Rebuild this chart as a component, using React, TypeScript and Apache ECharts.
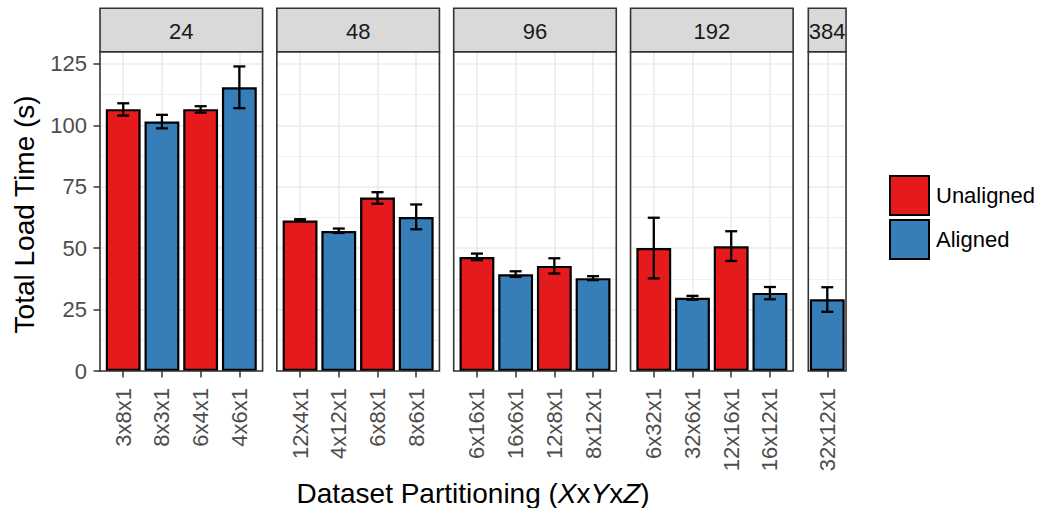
import React, { useEffect, useRef } from 'react';
import * as echarts from 'echarts';

// ---------------- data ----------------
const facetLabels = ['24', '48', '96', '192', '384'];
const partitions = [
  ['3x8x1', '8x3x1', '6x4x1', '4x6x1'],
  ['12x4x1', '4x12x1', '6x8x1', '8x6x1'],
  ['6x16x1', '16x6x1', '12x8x1', '8x12x1'],
  ['6x32x1', '32x6x1', '12x16x1', '16x12x1'],
  ['32x12x1'],
];
const alignment = [
  ['Unaligned', 'Aligned', 'Unaligned', 'Aligned'],
  ['Unaligned', 'Aligned', 'Unaligned', 'Aligned'],
  ['Unaligned', 'Aligned', 'Unaligned', 'Aligned'],
  ['Unaligned', 'Aligned', 'Unaligned', 'Aligned'],
  ['Aligned'],
];
const loadTime = [
  [106.6, 101.6, 106.6, 115.5],
  [61.3, 57.0, 70.6, 62.7],
  [46.4, 39.4, 42.8, 37.8],
  [50.1, 29.8, 50.8, 31.8],
  [29.2],
];
const errLow = [
  [104.0, 98.8, 105.2, 107.0],
  [61.0, 56.2, 68.1, 57.7],
  [45.1, 38.3, 39.7, 37.0],
  [37.7, 29.0, 44.8, 29.2],
  [24.1],
];
const errHigh = [
  [109.0, 104.3, 107.8, 124.0],
  [61.8, 58.0, 72.8, 67.8],
  [47.8, 40.6, 45.9, 38.6],
  [62.4, 30.6, 56.9, 34.2],
  [34.1],
];
const seriesNames = ['Unaligned', 'Aligned'];
const seriesColors = ['#E41A1C', '#377EB8'];
const yTicks = [0, 25, 50, 75, 100, 125];
const yMax = 130;

// ---------------- layout ----------------
const FONT = "'Liberation Sans', Arial, Helvetica, sans-serif";
const STRIP_TOP = 8.3;
const PANEL_TOP = 51.7;
const PANEL_BOTTOM = 371;
const UNIT = 38.71;
const panelLeft = [100, 276.85, 453.7, 630.55, 808.3];
const xMin = [0.4, 0.4, 0.4, 0.4, 0.51];
const xMax = [4.6, 4.6, 4.6, 4.6, 1.485];

function buildOption() {
  const grids: any[] = [];
  const xAxes: any[] = [];
  const yAxes: any[] = [];
  const series: any[] = [];
  const graphics: any[] = [];
  const panelH = PANEL_BOTTOM - PANEL_TOP;

  partitions.forEach((cats, i) => {
    const w = (xMax[i] - xMin[i]) * UNIT;
    const idx = cats.map((_, j) => j + 1);
    grids.push({
      left: panelLeft[i],
      top: PANEL_TOP,
      width: w,
      height: panelH,
      containLabel: false,
      outerBoundsMode: 'none',
      show: false,
    });
    xAxes.push({
      type: 'value',
      gridIndex: i,
      min: xMin[i],
      max: xMax[i],
      position: 'bottom',
      axisLine: { show: false },
      axisTick: {
        show: true,
        length: 6.5,
        customValues: idx,
        lineStyle: { color: '#333333', width: 1.5 },
      },
      axisLabel: {
        customValues: idx,
        rotate: 90,
        margin: 17,
        fontSize: 22,
        color: '#4D4D4D',
        fontFamily: FONT,
        formatter: (v: number) => cats[Math.round(v) - 1] ?? '',
      },
      splitLine: { show: true, lineStyle: { color: '#EBEBEB', width: 1.6 } },
    });
    yAxes.push({
      type: 'value',
      gridIndex: i,
      min: 0,
      max: yMax,
      interval: 25,
      axisLine: { show: false },
      axisTick: {
        show: i === 0,
        length: 6.5,
        customValues: yTicks,
        lineStyle: { color: '#333333', width: 1.5 },
      },
      axisLabel: {
        show: i === 0,
        customValues: yTicks,
        margin: 13,
        fontSize: 22,
        color: '#4D4D4D',
        fontFamily: FONT,
      },
      minorTick: { show: false, splitNumber: 2 },
      splitLine: { show: true, lineStyle: { color: '#EBEBEB', width: 1.6 } },
      minorSplitLine: { show: true, lineStyle: { color: '#EBEBEB', width: 0.8 } },
    });

    seriesNames.forEach((name, s) => {
      const data: any[] = [];
      cats.forEach((_, j) => {
        if (alignment[i][j] === name) data.push([j + 1, loadTime[i][j]]);
      });
      series.push({
        type: 'bar',
        name,
        xAxisIndex: i,
        yAxisIndex: i,
        barWidth: 0.9 * UNIT,
        barGap: '-100%',
        data,
        itemStyle: { color: seriesColors[s], borderColor: '#000000', borderWidth: 2.2 },
        z: 2,
      });
    });

    series.push({
      type: 'custom',
      name: 'err' + i,
      xAxisIndex: i,
      yAxisIndex: i,
      z: 5,
      encode: { x: 0, y: [1, 2] },
      data: cats.map((_, j) => [j + 1, errLow[i][j], errHigh[i][j]]),
      renderItem: (params: any, api: any) => {
        const x = api.value(0);
        const top = api.coord([x, api.value(2)]);
        const bot = api.coord([x, api.value(1)]);
        const hw = 6;
        const style = { stroke: '#000000', lineWidth: 2.3 };
        return {
          type: 'group',
          children: [
            { type: 'line', shape: { x1: top[0], y1: top[1], x2: bot[0], y2: bot[1] }, style },
            { type: 'line', shape: { x1: top[0] - hw, y1: top[1], x2: top[0] + hw, y2: top[1] }, style },
            { type: 'line', shape: { x1: bot[0] - hw, y1: bot[1], x2: bot[0] + hw, y2: bot[1] }, style },
          ],
        };
      },
    });

    // panel border
    graphics.push({
      type: 'rect',
      z: 100,
      shape: { x: panelLeft[i], y: PANEL_TOP, width: w, height: panelH },
      style: { fill: 'none', stroke: '#333333', lineWidth: 1.6 },
    });
    // strip
    graphics.push({
      type: 'rect',
      z: 100,
      shape: { x: panelLeft[i], y: STRIP_TOP, width: w, height: PANEL_TOP - STRIP_TOP },
      style: { fill: '#D9D9D9', stroke: '#333333', lineWidth: 1.6 },
    });
    graphics.push({
      type: 'text',
      z: 101,
      x: panelLeft[i] + w / 2,
      y: (STRIP_TOP + PANEL_TOP) / 2 + 1,
      style: {
        text: facetLabels[i],
        align: 'center',
        verticalAlign: 'middle',
        fontSize: 22,
        fill: '#1A1A1A',
        fontFamily: FONT,
      },
    });
  });

  const plotRight = panelLeft[4] + (xMax[4] - xMin[4]) * UNIT;
  graphics.push({
    type: 'text',
    z: 101,
    x: (panelLeft[0] + plotRight) / 2,
    y: 493,
    style: {
      text: 'Dataset Partitioning ({i|X}x{i|Y}x{i|Z})',
      align: 'center',
      verticalAlign: 'middle',
      fontSize: 28,
      fill: '#000000',
      fontFamily: FONT,
      rich: { i: { fontStyle: 'italic', fontSize: 28, fontFamily: FONT, fill: '#000000' } },
    },
  });
  graphics.push({
    type: 'text',
    z: 101,
    x: 24,
    y: (PANEL_TOP + PANEL_BOTTOM) / 2 + 3,
    rotation: Math.PI / 2,
    style: {
      text: 'Total Load Time (s)',
      align: 'center',
      verticalAlign: 'middle',
      fontSize: 28,
      fill: '#000000',
      fontFamily: FONT,
    },
  });

  return {
    animation: false,
    backgroundColor: '#FFFFFF',
    grid: grids,
    xAxis: xAxes,
    yAxis: yAxes,
    series,
    legend: {
      data: seriesNames,
      orient: 'vertical',
      left: 889,
      top: 175,
      padding: 0,
      itemWidth: 39,
      itemHeight: 39,
      itemGap: 3,
      icon: 'rect',
      selectedMode: false,
      itemStyle: { borderColor: '#000000', borderWidth: 2 },
      textStyle: { fontSize: 22, color: '#000000', fontFamily: FONT, padding: [0, 0, 0, 2] },
    },
    graphic: graphics,
  };
}

export default function App() {
  const ref = useRef<HTMLDivElement>(null);
  useEffect(() => {
    if (!ref.current) return;
    const chart = echarts.init(ref.current, undefined, { renderer: 'svg' });
    chart.setOption(buildOption() as any);
    return () => chart.dispose();
  }, []);
  return (
    <div
      ref={ref}
      style={{ position: 'fixed', left: 0, top: 0, width: 1039, height: 508, background: '#fff' }}
    />
  );
}
